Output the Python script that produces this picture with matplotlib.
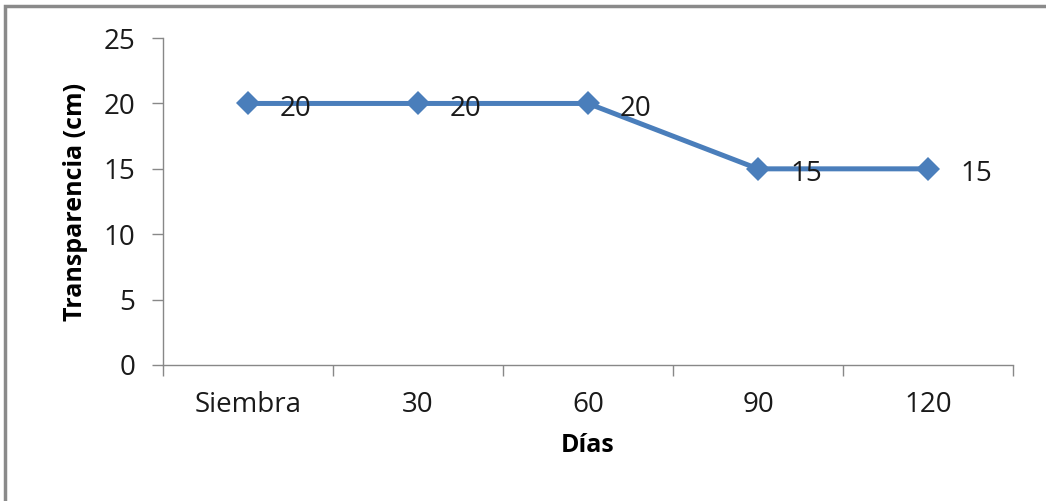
import matplotlib
matplotlib.use("Agg")
import matplotlib.pyplot as plt
from matplotlib.patches import Rectangle
import numpy as np

# transparency readings over time
dias = ["Siembra", "30", "60", "90", "120"]
transparencia = [20, 20, 20, 15, 15]
y_ticks = [0, 5, 10, 15, 20, 25]

plt.rcParams['font.family'] = ['Open Sans', 'DejaVu Sans']

fig = plt.figure(figsize=(10.46, 5.01), dpi=100)
ax = fig.add_axes([0.1558, 0.2715, 0.8127, 0.6525])

x = np.arange(len(dias))
ax.plot(x, transparencia, color="#4a7ebb", linewidth=3.6, marker="D",
        markersize=12, markeredgewidth=0, zorder=3)

# data labels to the right of each point
for xi, v in zip(x, transparencia):
    ax.annotate(str(v), (xi, v), xytext=(23, -4), textcoords="offset points",
                ha="left", va="center", fontsize=20, color="#1a1a1a", zorder=4)

ax.set_xlim(-0.5, len(dias) - 0.5)
ax.set_ylim(0, 25)
ax.set_yticks(y_ticks)
ax.set_yticklabels([str(t) for t in y_ticks], fontsize=20, color="#1a1a1a")

# category labels in the middle, tick marks on the boundaries
ax.set_xticks(np.arange(-0.5, len(dias)), minor=False)
ax.set_xticklabels([])
ax.set_xticks(x, minor=True)
ax.set_xticklabels(dias, minor=True, fontsize=20, color="#1a1a1a")
ax.tick_params(axis="x", which="major", length=8, color="#888888", width=1)
ax.tick_params(axis="x", which="minor", length=0, pad=19)
ax.tick_params(axis="y", length=8, color="#888888", width=1, pad=12)

for side in ["top", "right"]:
    ax.spines[side].set_visible(False)
for side in ["left", "bottom"]:
    ax.spines[side].set_color("#888888")
    ax.spines[side].set_linewidth(1)

ax.set_ylabel("Transparencia (cm)", fontsize=18, fontweight="bold", labelpad=11)
ax.set_xlabel("Días", fontsize=18, fontweight="bold", labelpad=10)

# outer chart frame
fig.patches.append(Rectangle((5 / 1046, -0.05), 1.2, 1 - 6 / 501 + 0.05,
                             transform=fig.transFigure, fill=False,
                             edgecolor="#8a8a8a", linewidth=2.5))

fig.savefig("out.png", dpi=100)
